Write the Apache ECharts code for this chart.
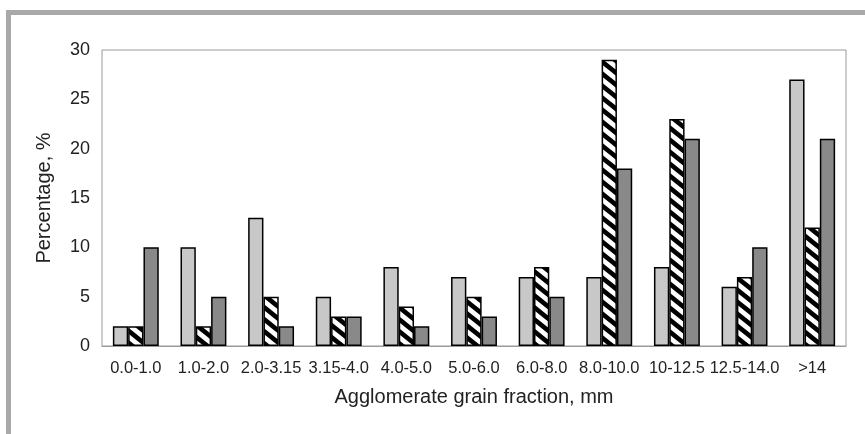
<!DOCTYPE html>
<html>
<head>
<meta charset="utf-8">
<script src="https://cdn.jsdelivr.net/npm/echarts@6/dist/echarts.min.js"></script>
<style>
html,body{margin:0;padding:0;background:#fff;width:865px;height:434px;overflow:hidden;}
#frame{position:absolute;left:6px;top:10px;width:900px;height:500px;border-top:5px solid #a9a9a9;border-left:5px solid #a9a9a9;box-sizing:border-box;}
#chart{position:absolute;left:0;top:0;width:865px;height:434px;}
</style>
</head>
<body>
<div id="frame"></div>
<div id="chart"></div>
<script>
var categories = ['0.0-1.0','1.0-2.0','2.0-3.15','3.15-4.0','4.0-5.0','5.0-6.0','6.0-8.0','8.0-10.0','10-12.5','12.5-14.0','>14'];
var seriesLight = [2, 10, 13, 5, 8, 7, 7, 7, 8, 6, 27];
var seriesHatched = [2, 2, 5, 3, 4, 5, 8, 29, 23, 7, 12];
var seriesDark = [10, 5, 2, 3, 2, 3, 5, 18, 21, 10, 21];
var yTicks = {min: 0, max: 30, interval: 5};

function makeHatch() {
  var w = 15, h = 12;
  var c = document.createElement('canvas');
  c.width = w; c.height = h;
  var ctx = c.getContext('2d');
  ctx.fillStyle = '#ffffff';
  ctx.fillRect(0, 0, w, h);
  ctx.strokeStyle = '#000000';
  ctx.lineWidth = 4.6;
  [-w, 0, w].forEach(function (k) {
    ctx.beginPath();
    ctx.moveTo(k - w, -h);
    ctx.lineTo(k + 2 * w, 2 * h);
    ctx.stroke();
  });
  return c;
}

var chart = echarts.init(document.getElementById('chart'), null, {renderer: 'canvas'});
var font = 'Liberation Sans, Arial, sans-serif';
var border = {borderColor: '#000', borderWidth: 1.5};
chart.setOption({
  animation: false,
  backgroundColor: 'transparent',
  grid: {left: 102, top: 50, right: 19, bottom: 88, show: true, borderColor: '#9a9a9a', borderWidth: 1, backgroundColor: 'transparent'},
  xAxis: {
    type: 'category',
    data: categories,
    name: 'Agglomerate grain fraction, mm',
    nameLocation: 'middle',
    nameGap: 41,
    nameTextStyle: {fontFamily: font, fontSize: 20, color: '#222'},
    axisLine: {show: true, lineStyle: {color: '#9a9a9a', width: 1}},
    axisTick: {show: false},
    axisLabel: {fontFamily: font, fontSize: 16.5, color: '#222', margin: 14, interval: 0},
    splitLine: {show: false}
  },
  yAxis: {
    type: 'value',
    min: yTicks.min, max: yTicks.max, interval: yTicks.interval,
    name: 'Percentage, %',
    nameLocation: 'middle',
    nameGap: 48,
    nameTextStyle: {fontFamily: font, fontSize: 20, color: '#222'},
    axisLine: {show: false},
    axisTick: {show: false},
    axisLabel: {fontFamily: font, fontSize: 18, color: '#222', margin: 12},
    splitLine: {show: false}
  },
  series: [
    {type: 'bar', data: seriesLight, barWidth: 15.3, barGap: '0%', itemStyle: Object.assign({color: '#c8c8c8'}, border)},
    {type: 'bar', data: seriesHatched, barWidth: 15.3, barGap: '0%', itemStyle: Object.assign({color: {image: makeHatch(), repeat: 'repeat'}}, border)},
    {type: 'bar', data: seriesDark, barWidth: 15.3, barGap: '0%', itemStyle: Object.assign({color: '#898989'}, border)}
  ]
});
</script>
</body>
</html>
